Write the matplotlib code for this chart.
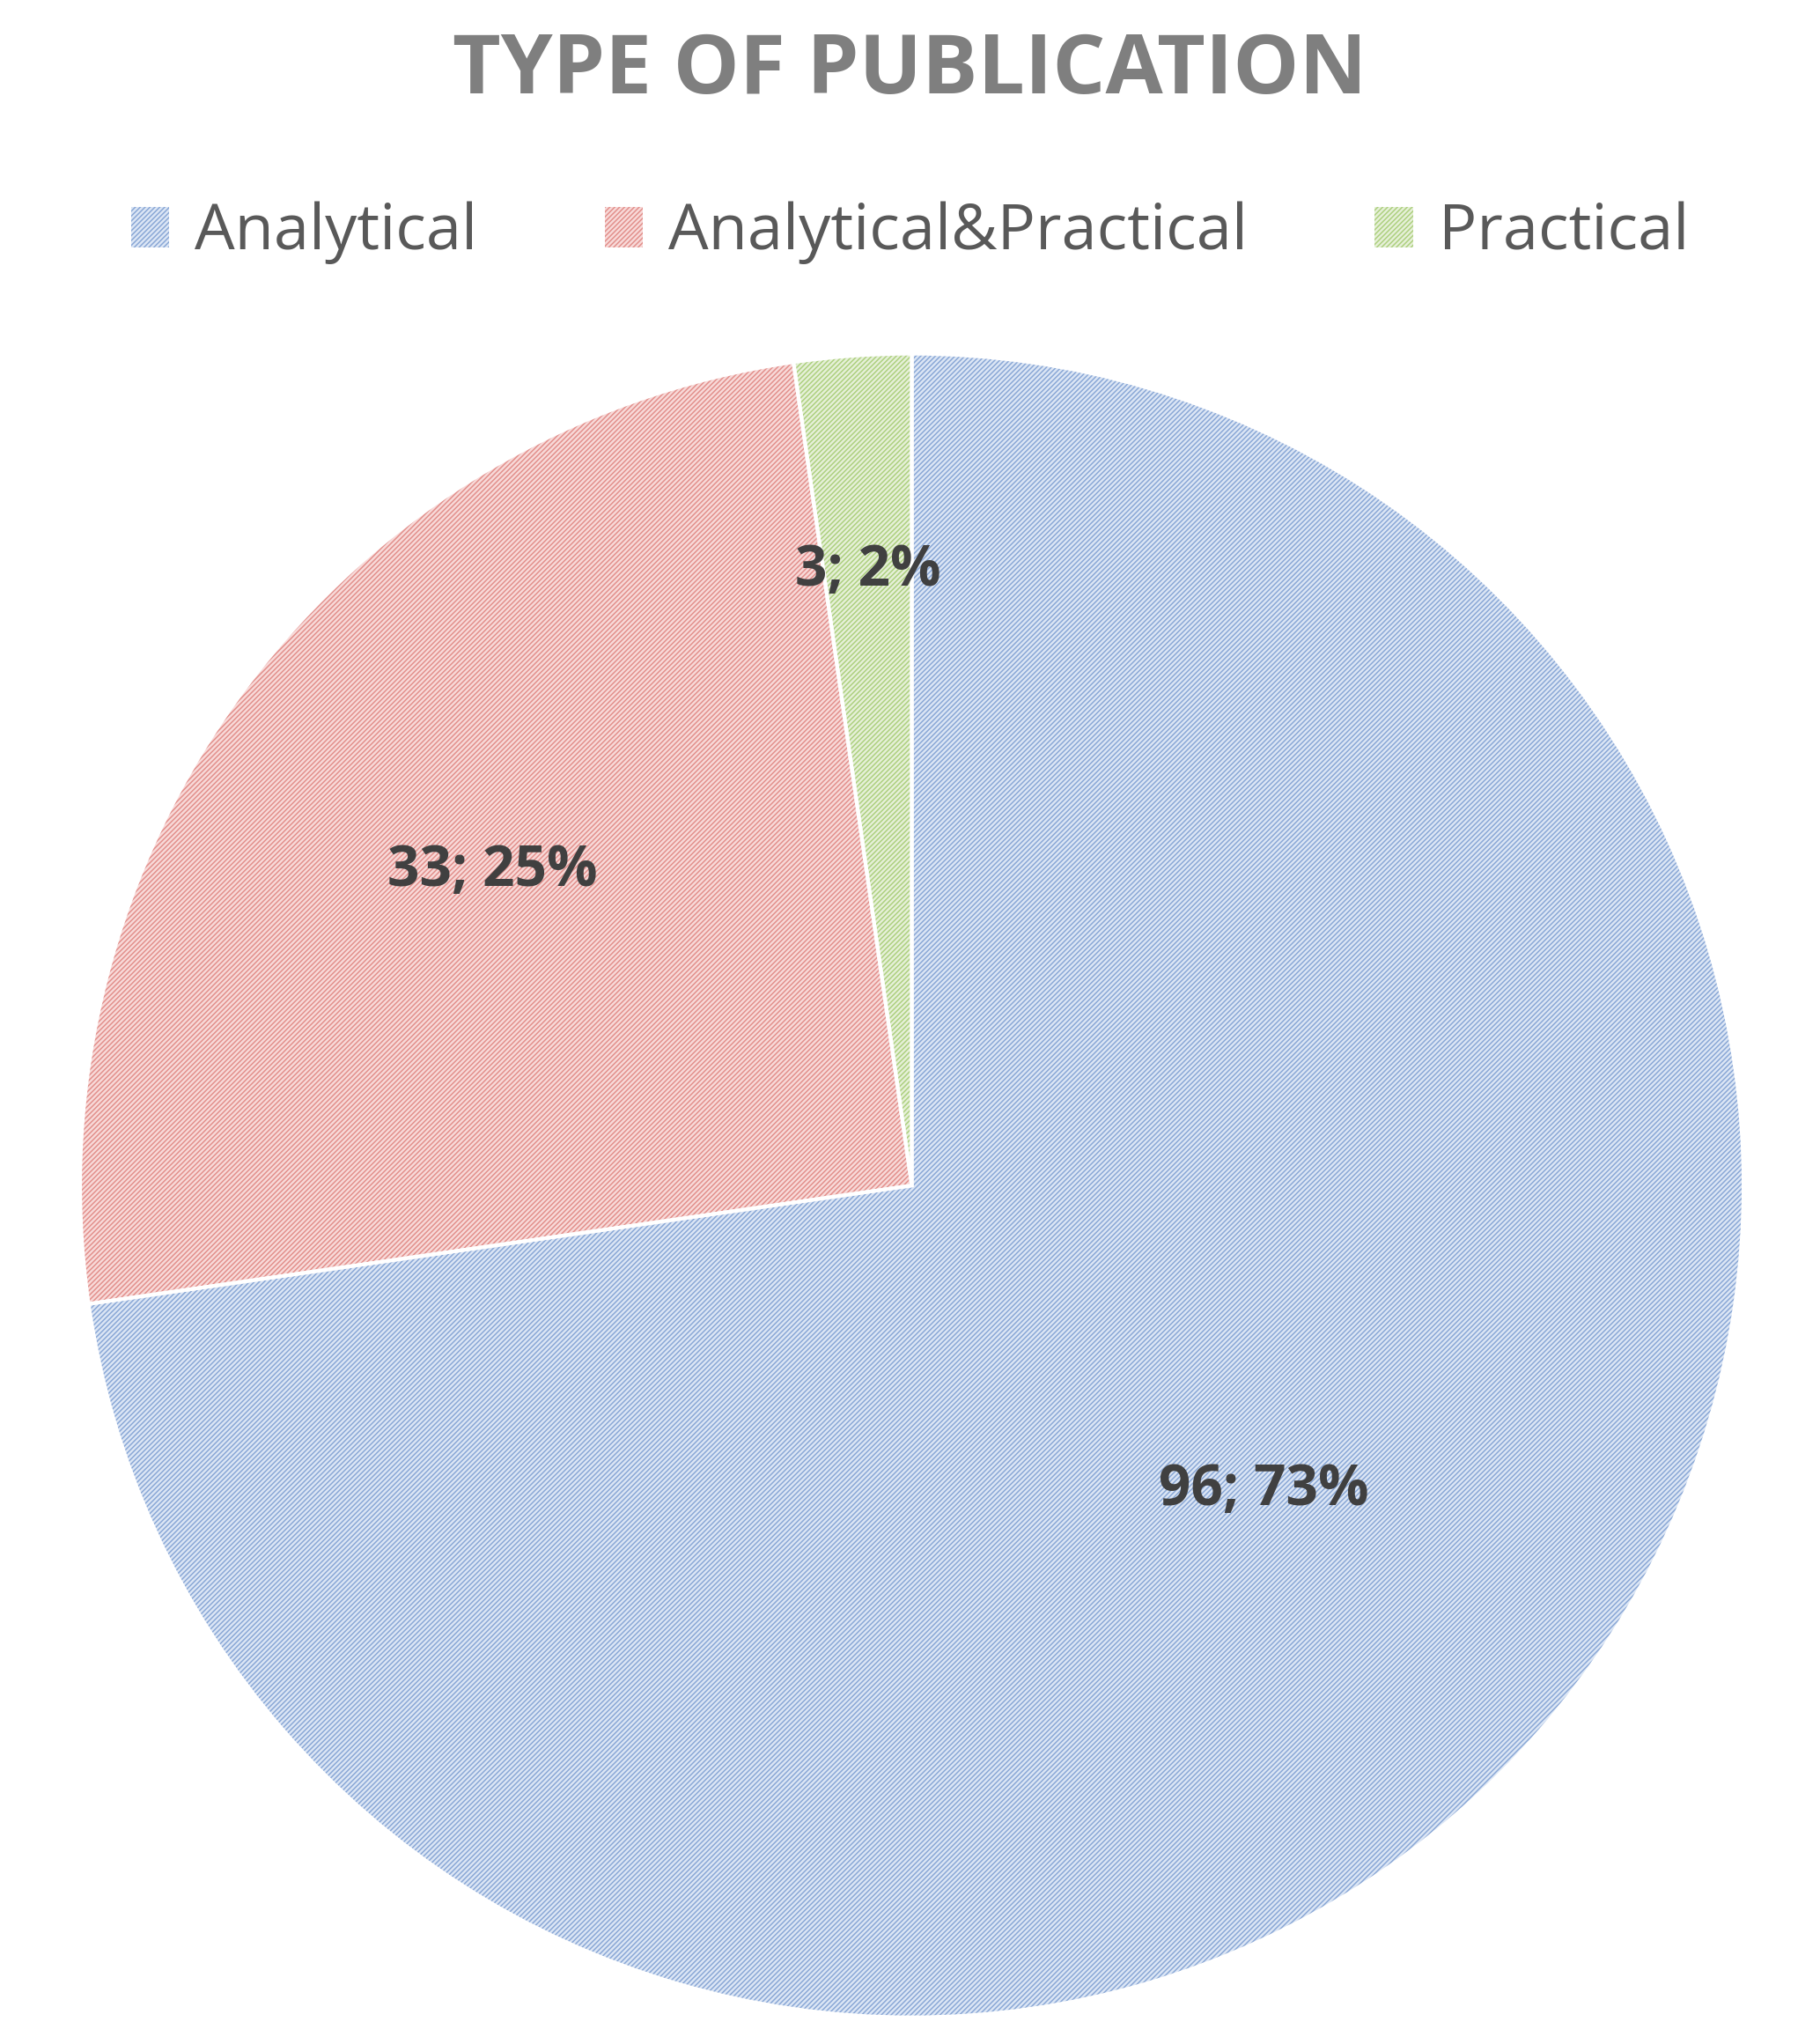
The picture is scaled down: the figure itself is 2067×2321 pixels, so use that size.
import matplotlib.pyplot as plt
import numpy as np
from matplotlib.patches import Patch

categories = ["Analytical", "Analytical&Practical", "Practical"]
values = [96, 33, 3]
percents = [73, 25, 2]
faces = ["#dce6f5", "#f8dad9", "#e6f0d8"]
hatchc = ["#8aa8d6", "#e2908c", "#add07f"]

plt.rcParams['font.family'] = ['Open Sans', 'DejaVu Sans']
plt.rcParams['hatch.linewidth'] = 1.1
fig = plt.figure(figsize=(20.67, 23.21), dpi=100)
ax = fig.add_axes([0.041, 0.011, 0.92, 0.818])
wedges, _ = ax.pie(values, startangle=90, counterclock=False, colors=faces,
                   wedgeprops=dict(linewidth=0))
for w, hc in zip(wedges, hatchc):
    w.set_hatch("//////")
    w.set_edgecolor(hc)
    w.set_linewidth(0)
ax.pie(values, startangle=90, counterclock=False,
       wedgeprops=dict(fill=False, edgecolor="white", linewidth=3))
dists = [0.56, 0.63, 0.74]
for w, v, p, d in zip(wedges, values, percents, dists):
    th = np.deg2rad((w.theta1 + w.theta2) / 2)
    ax.text(d * np.cos(th), d * np.sin(th), f"{v}; {p}%", ha="center", va="center",
            fontsize=46, fontweight="bold", color="#404040")
ax.set_xlim(-1.005, 1.005)
ax.set_ylim(-1.005, 1.005)
ax.set_aspect("equal")

fig.text(0.5, 0.965, "TYPE OF PUBLICATION", ha="center", va="center",
         fontsize=68, fontweight="bold", color="#7f7f7f")
handles = [Patch(facecolor=f, edgecolor=h, hatch="//////", linewidth=0) for f, h in zip(faces, hatchc)]
fig.legend(handles, categories, loc="center", bbox_to_anchor=(0.5, 0.886), ncol=3,
           frameon=False, fontsize=52, labelcolor="#595959", handlelength=0.6,
           handleheight=0.6, columnspacing=2.0, handletextpad=0.4)
fig.savefig("out.png", dpi=100)
